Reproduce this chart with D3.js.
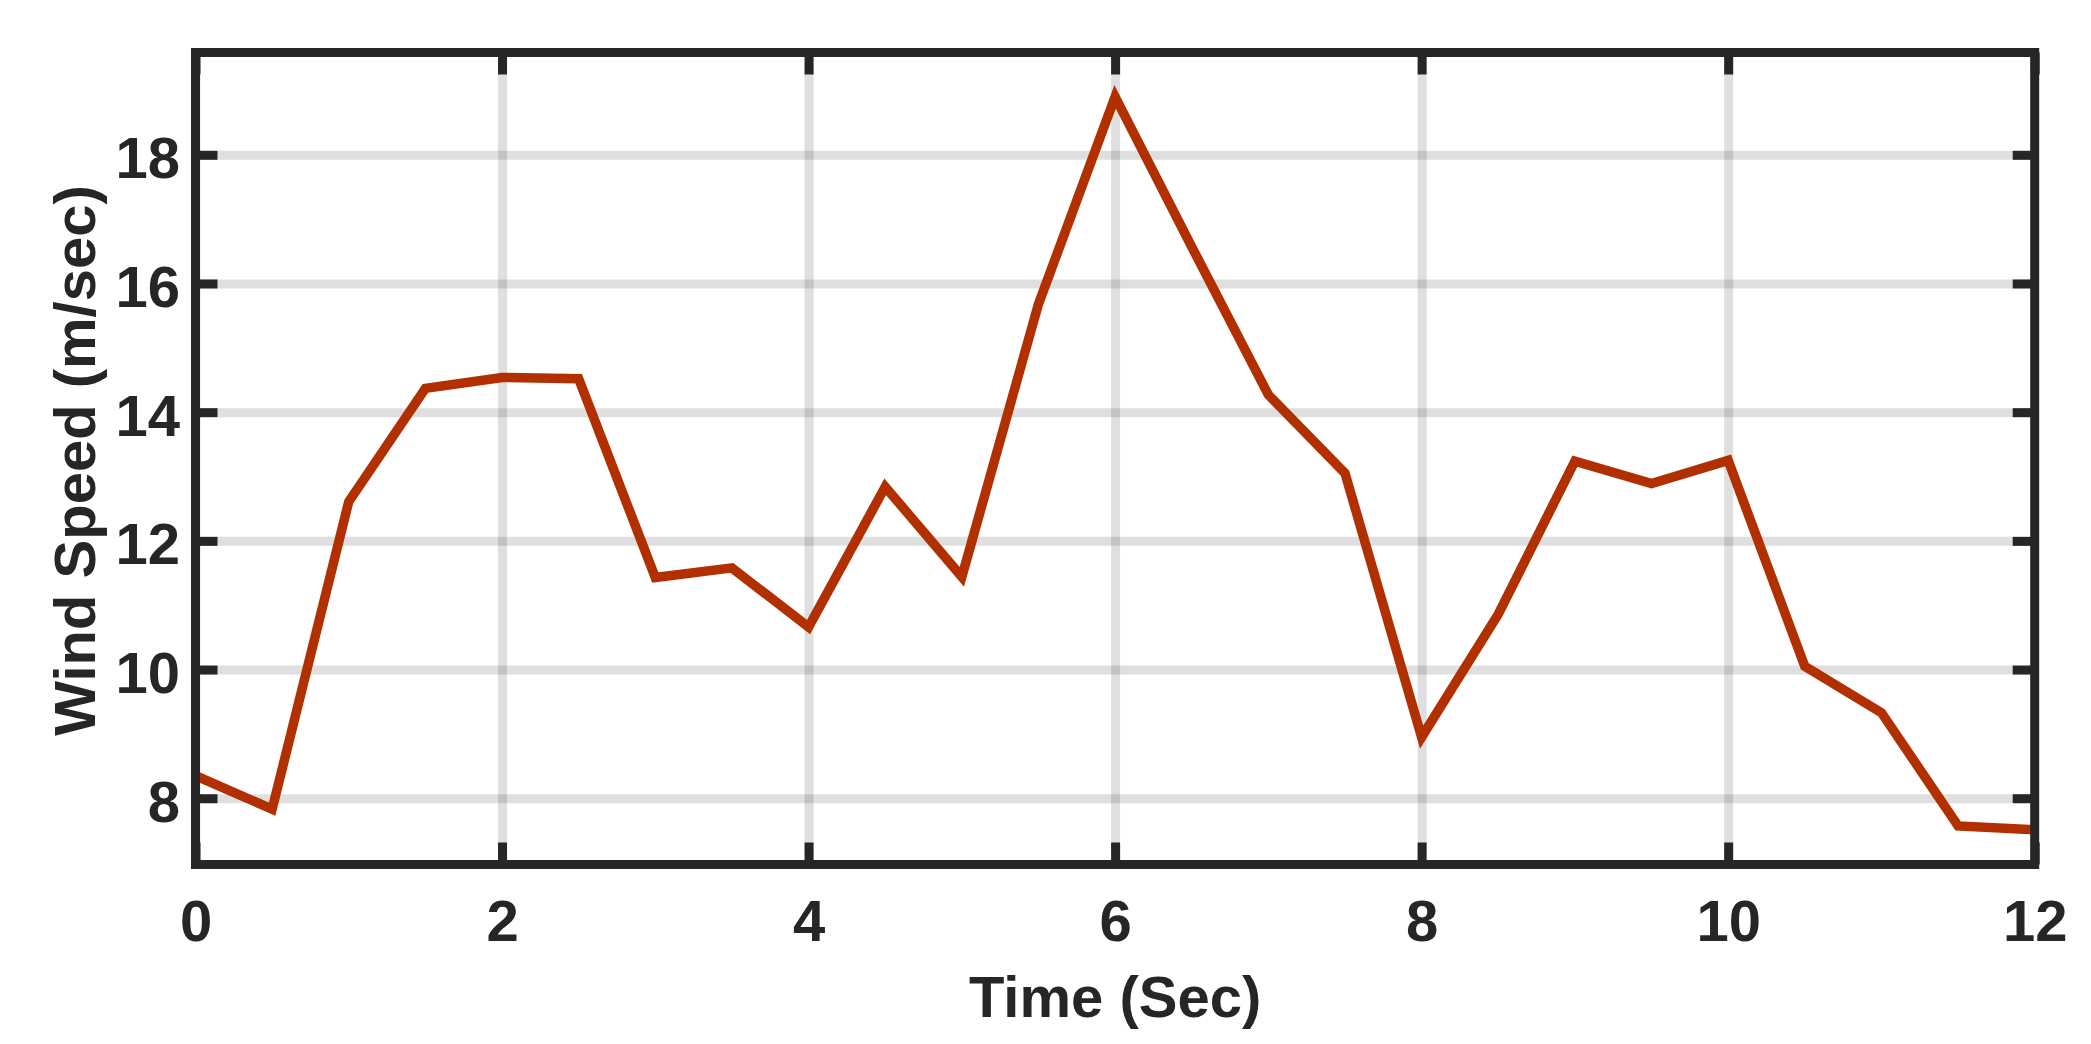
<!DOCTYPE html>
<html>
<head>
<meta charset="utf-8">
<script src="https://cdn.jsdelivr.net/npm/d3@7"></script>
<style>
  body { margin: 0; background: #fff; }
  text { font-family: "Liberation Sans", Arial, sans-serif; font-weight: bold; fill: #262626; }
</style>
</head>
<body>
<script>
// wind speed samples, every half second
var times = [0, 0.5, 1, 1.5, 2, 2.5, 3, 3.5, 4, 4.5, 5, 5.5, 6, 6.5, 7, 7.5, 8, 8.5, 9, 9.5, 10, 10.5, 11, 11.5, 12];
var speeds = [8.35, 7.83, 12.61, 14.37, 14.54, 14.52, 11.43, 11.58, 10.66, 12.84, 11.44, 15.68, 18.9, 16.57, 14.27, 13.05, 8.95, 10.86, 13.24, 12.89, 13.25, 10.05, 9.33, 7.57, 7.51];

var xTicks = [0, 2, 4, 6, 8, 10, 12];
var yTicks = [8, 10, 12, 14, 16, 18];

var width = 2091, height = 1044;
// plot box edges (frame line centres)
var pL = 195.5, pR = 2034.7, pT = 52.5, pB = 864.5;
var ink = "#262626";

var svg = d3.select("body").append("svg")
    .attr("width", width)
    .attr("height", height);

svg.append("rect")
    .attr("width", width)
    .attr("height", height)
    .attr("fill", "#fff");

var x = d3.scaleLinear().domain([0, 12]).range([pL, pR]);
var y = d3.scaleLinear().domain([6.97, 19.59]).range([pB, pT]);

svg.append("clipPath").attr("id", "plot")
  .append("rect")
    .attr("x", pL).attr("y", pT)
    .attr("width", pR - pL).attr("height", pB - pT);

// grid
var grid = svg.append("g").attr("clip-path", "url(#plot)");

grid.append("g")
    .attr("transform", "translate(0," + pB + ")")
    .call(d3.axisBottom(x).tickValues(xTicks).tickSize(-(pB - pT)).tickFormat(""));

grid.append("g")
    .attr("transform", "translate(" + pL + ",0)")
    .call(d3.axisLeft(y).tickValues(yTicks).tickSize(-(pR - pL)).tickFormat(""));

grid.selectAll(".domain").remove();
grid.selectAll(".tick line")
    .attr("stroke", "#000")
    .attr("stroke-opacity", 0.125)
    .attr("stroke-width", 9);

// data line
var line = d3.line()
    .x(function(d, i) { return x(times[i]); })
    .y(function(d) { return y(d); });

svg.append("path")
    .datum(speeds)
    .attr("clip-path", "url(#plot)")
    .attr("fill", "none")
    .attr("stroke", "#b23000")
    .attr("stroke-width", 9.5)
    .attr("stroke-linejoin", "miter")
    .attr("d", line);

// ticks on all four sides, pointing in
var tickLen = 22;
var axes = svg.append("g");

axes.append("g")
    .attr("transform", "translate(0," + pB + ")")
    .call(d3.axisBottom(x).tickValues(xTicks).tickSize(-tickLen).tickPadding(35.5).tickFormat(d3.format("d")));

axes.append("g")
    .attr("transform", "translate(0," + pT + ")")
    .call(d3.axisTop(x).tickValues(xTicks).tickSize(-tickLen).tickFormat(""));

var yAxis = axes.append("g")
    .attr("transform", "translate(" + pL + ",0)")
    .call(d3.axisLeft(y).tickValues(yTicks).tickSize(-tickLen).tickPadding(15.5).tickFormat(d3.format("d")));

axes.append("g")
    .attr("transform", "translate(" + pR + ",0)")
    .call(d3.axisRight(y).tickValues(yTicks).tickSize(-tickLen).tickFormat(""));

axes.selectAll(".domain").remove();

axes.selectAll(".tick line")
    .attr("stroke", ink)
    .attr("stroke-width", 9);

axes.selectAll(".tick text")
    .attr("font-family", null)
    .attr("font-size", null)
    .style("font-size", "58px")
    .attr("fill", ink);

yAxis.selectAll(".tick text").attr("dy", "23px");

// frame
svg.append("rect")
    .attr("x", pL).attr("y", pT)
    .attr("width", pR - pL).attr("height", pB - pT)
    .attr("fill", "none")
    .attr("stroke", ink)
    .attr("stroke-width", 9);

// axis titles
svg.append("text")
    .attr("x", (pL + pR) / 2)
    .attr("y", 1017)
    .attr("text-anchor", "middle")
    .style("font-size", "58px")
    .text("Time (Sec)");

svg.append("text")
    .attr("transform", "translate(95," + ((pT + pB) / 2 + 2) + ") rotate(-90)")
    .attr("text-anchor", "middle")
    .style("font-size", "58px")
    .text("Wind Speed (m/sec)");
</script>
</body>
</html>
